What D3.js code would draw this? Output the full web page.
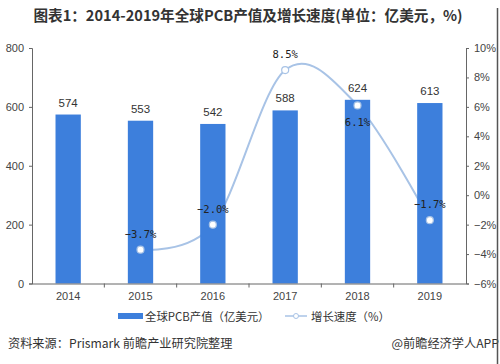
<!DOCTYPE html>
<html><head><meta charset="utf-8">
<script src="https://cdn.jsdelivr.net/npm/d3@7"></script>
<style>body{margin:0;background:#fff}svg{display:block}</style>
</head><body>
<script>
const years = ["2014","2015","2016","2017","2018","2019"];
const output = [574, 553, 542, 588, 624, 613];
const growth = [null, -3.7, -2.0, 8.5, 6.1, -1.7];
const growthLabels = [null, "−3.7%", "−2.0%", "8.5%", "6.1%", "−1.7%"];
const leftTicks = [0, 200, 400, 600, 800];
const rightTicks = [-6, -4, -2, 0, 2, 4, 6, 8, 10];
const title = "图表1：2014-2019年全球PCB产值及增长速度(单位：亿美元，%)";
const legendBar = "全球PCB产值（亿美元）";
const legendLine = "增长速度（%）";
const source = "资料来源：Prismark 前瞻产业研究院整理";
const credit = "@前瞻经济学人APP";

const W = 500, H = 364;
const svg = d3.select("body").append("svg").attr("width", W).attr("height", H);
const font = "'Noto Sans CJK SC','Noto Sans',sans-serif";
const L = 32, R = 466, T = 48, B = 283.5;
const barColor = "#3d7fdc", lineColor = "#a8c3e6", axisColor = "#666";

const x = d3.scaleBand().domain(years).range([L, R]).paddingInner(0.65).paddingOuter(0.325);
const yL = d3.scaleLinear().domain([0, 800]).range([B, T]);
const yR = d3.scaleLinear().domain([-6, 10]).range([B, T]);

// title
svg.append("text").attr("x", 248).attr("y", 21).attr("text-anchor", "middle")
  .attr("font-family", font).attr("font-weight", "bold").attr("font-size", 14.6)
  .attr("fill", "#333").text(title);

// growth line (behind bars)
const pts = years.map((d, i) => ({yr: d, v: growth[i], lab: growthLabels[i]})).filter(p => p.v !== null);
const cx = p => x(p.yr) + x.bandwidth() / 2;
const line = d3.line().x(cx).y(p => yR(p.v)).curve(d3.curveCardinal.tension(0));
svg.append("path").datum(pts).attr("d", line).attr("fill", "none")
  .attr("stroke", lineColor).attr("stroke-width", 2);

// bars
svg.selectAll("rect.bar").data(years).join("rect").attr("class", "bar")
  .attr("x", d => x(d)).attr("width", x.bandwidth())
  .attr("y", (d, i) => yL(output[i])).attr("height", (d, i) => B - yL(output[i]))
  .attr("fill", barColor);
svg.selectAll("text.bl").data(years).join("text").attr("class", "bl")
  .attr("x", d => x(d) + x.bandwidth() / 2).attr("y", (d, i) => yL(output[i]) - 8)
  .attr("text-anchor", "middle").attr("font-family", "Arial, 'Liberation Sans', sans-serif")
  .attr("font-size", 11.5).attr("fill", "#333").text((d, i) => output[i]);

// axes
const axL = svg.append("g").attr("transform", `translate(${L},0)`)
  .call(d3.axisLeft(yL).tickValues(leftTicks).tickSize(3).tickPadding(5));
const axR = svg.append("g").attr("transform", `translate(${R},0)`)
  .call(d3.axisRight(yR).tickValues(rightTicks).tickSize(3).tickPadding(5)
    .tickFormat(d => (d < 0 ? "−" + Math.abs(d) : d) + "%"));
const xBoundaries = years.slice(1).map(d => x(d) - x.step() * x.paddingInner() / 2);
const axB = svg.append("g").attr("transform", `translate(0,${B})`)
  .call(d3.axisBottom(x).tickSize(0).tickPadding(9));
axB.selectAll(".tick line").remove();
svg.selectAll("line.xt").data(xBoundaries).join("line").attr("class", "xt")
  .attr("x1", d => d).attr("x2", d => d).attr("y1", B).attr("y2", B + 4)
  .attr("stroke", axisColor);
[axL, axR, axB].forEach(g => {
  g.selectAll("path.domain").attr("stroke", axisColor);
  g.selectAll(".tick line").attr("stroke", axisColor);
  g.selectAll("text").attr("font-family", "Arial, 'Liberation Sans', sans-serif")
    .attr("font-size", 11).attr("fill", "#444");
});
axB.select("path.domain").attr("d", `M${L},0.5H${R}`);

// markers and labels
svg.selectAll("circle.m").data(pts).join("circle").attr("class", "m")
  .attr("cx", cx).attr("cy", p => yR(p.v)).attr("r", 3.5)
  .attr("fill", "#fff").attr("stroke", lineColor).attr("stroke-width", 1.2);
svg.selectAll("text.gl").data(pts).join("text").attr("class", "gl")
  .attr("x", cx).attr("y", p => yR(p.v) + (p.yr === "2018" ? 21 : -12))
  .attr("text-anchor", "middle").attr("font-family", "'DejaVu Sans Mono', monospace")
  .attr("font-size", 10.5).attr("fill", "#222").text(p => p.lab);

// legend
const lg = svg.append("g").attr("font-family", font).attr("font-size", 11.4).attr("fill", "#333");
lg.append("rect").attr("x", 118).attr("y", 313).attr("width", 25).attr("height", 6).attr("fill", barColor);
lg.append("text").attr("x", 145).attr("y", 320.5).text(legendBar);
lg.append("line").attr("x1", 285).attr("x2", 307).attr("y1", 316).attr("y2", 316)
  .attr("stroke", lineColor).attr("stroke-width", 1.5);
lg.append("circle").attr("cx", 296).attr("cy", 316).attr("r", 2.5).attr("fill", "#fff")
  .attr("stroke", lineColor).attr("stroke-width", 1);
lg.append("text").attr("x", 311).attr("y", 320.5).text(legendLine);

// footer
svg.append("text").attr("x", 8).attr("y", 348).attr("font-family", font)
  .attr("font-size", 12.2).attr("fill", "#333").text(source);
svg.append("text").attr("x", 499).attr("y", 348).attr("text-anchor", "end").attr("font-family", font)
  .attr("font-size", 12.2).attr("fill", "#333").text(credit);
svg.append("line").attr("x1", 497.5).attr("x2", 497.5).attr("y1", 8).attr("y2", 364)
  .attr("stroke", "#555").attr("stroke-width", 1.5);
</script>
</body></html>
